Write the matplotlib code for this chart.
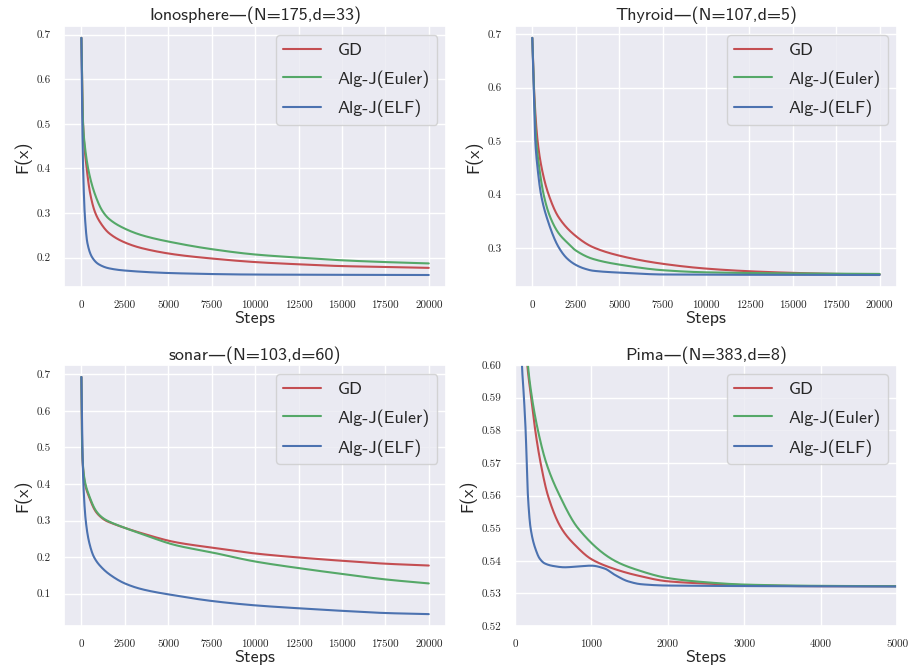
import matplotlib
matplotlib.use("Agg")
import matplotlib.pyplot as plt
from matplotlib.ticker import MultipleLocator
import seaborn as sns
import numpy as np

sns.set_theme(style="darkgrid", color_codes=True)
plt.rcParams['font.family'] = ['cmss10', 'DejaVu Sans']
plt.rcParams['axes.unicode_minus'] = False

labels = ["GD", "Alg-J(Euler)", "Alg-J(ELF)"]
colors = ["r", "g", "b"]

# Ionosphere
iono_gd_x = [0, 40, 96, 306, 500, 784, 1100, 1587, 2500, 3500, 5400, 7500, 10000, 12500, 15000, 17500, 20000]
iono_gd_y = [0.693, 0.60, 0.50, 0.40, 0.345, 0.302, 0.278, 0.255, 0.234, 0.221, 0.207, 0.198, 0.190, 0.185, 0.181, 0.179, 0.177]
iono_eu_x = [0, 40, 96, 200, 440, 800, 1205, 1587, 2500, 3500, 5400, 7500, 10000, 12500, 15000, 17500, 20000]
iono_eu_y = [0.693, 0.60, 0.50, 0.45, 0.39, 0.34, 0.305, 0.287, 0.265, 0.250, 0.233, 0.219, 0.207, 0.200, 0.194, 0.190, 0.187]
iono_elf_x = [0, 50, 100, 190, 344, 630, 1000, 1587, 2500, 5400, 10000, 20000]
iono_elf_y = [0.693, 0.50, 0.40, 0.30, 0.233, 0.20, 0.185, 0.176, 0.171, 0.165, 0.162, 0.161]

# Thyroid
thy_gd_x = [0, 95, 305, 600, 935, 1500, 2500, 3500, 5300, 7500, 10000, 12500, 15000, 17500, 20000]
thy_gd_y = [0.693, 0.60, 0.50, 0.44, 0.40, 0.358, 0.322, 0.301, 0.283, 0.270, 0.261, 0.256, 0.253, 0.251, 0.250]
thy_eu_x = [0, 90, 230, 400, 650, 1000, 1500, 2000, 2500, 3500, 5300, 7500, 10000, 15000, 20000]
thy_eu_y = [0.693, 0.60, 0.50, 0.45, 0.40, 0.36, 0.328, 0.310, 0.295, 0.279, 0.267, 0.258, 0.254, 0.252, 0.251]
thy_elf_x = [0, 80, 172, 300, 500, 900, 1500, 2000, 2500, 3000, 3500, 5300, 7500, 20000]
thy_elf_y = [0.693, 0.60, 0.50, 0.45, 0.40, 0.35, 0.302, 0.280, 0.268, 0.261, 0.257, 0.253, 0.250, 0.249]

# sonar
son_gd_x = [0, 40, 100, 210, 440, 822, 1109, 1400, 1800, 2500, 3500, 5400, 7500, 10000, 12500, 15000, 17500, 20000]
son_gd_y = [0.693, 0.50, 0.44, 0.40, 0.365, 0.325, 0.310, 0.300, 0.292, 0.280, 0.265, 0.241, 0.226, 0.210, 0.199, 0.190, 0.182, 0.177]
son_eu_x = [0, 40, 100, 210, 440, 822, 1109, 1400, 1800, 2500, 3500, 5400, 7500, 10000, 12500, 15000, 17500, 20000]
son_eu_y = [0.693, 0.51, 0.445, 0.405, 0.369, 0.328, 0.312, 0.302, 0.293, 0.280, 0.263, 0.233, 0.213, 0.188, 0.170, 0.154, 0.139, 0.128]
son_elf_x = [0, 57, 115, 250, 450, 727, 1200, 1700, 2500, 3500, 5400, 7500, 10000, 12500, 15000, 17500, 20000]
son_elf_y = [0.693, 0.50, 0.40, 0.30, 0.24, 0.20, 0.17, 0.15, 0.128, 0.112, 0.095, 0.080, 0.068, 0.060, 0.053, 0.047, 0.044]

# Pima
pima_gd_x = [0, 60, 162, 214, 266, 336, 432, 607, 800, 1000, 1300, 1600, 2000, 2600, 3200, 4000, 5000]
pima_gd_y = [0.693, 0.65, 0.60, 0.59, 0.58, 0.57, 0.56, 0.55, 0.5445, 0.5405, 0.5375, 0.5355, 0.5337, 0.5329, 0.5324, 0.5322, 0.5322]
pima_eu_x = [0, 60, 170, 223, 301, 410, 585, 825, 1306, 1600, 2000, 2500, 3000, 4000, 5000]
pima_eu_y = [0.693, 0.65, 0.60, 0.59, 0.58, 0.57, 0.56, 0.55, 0.54, 0.5372, 0.5347, 0.5334, 0.5327, 0.5323, 0.5322]
pima_elf_x = [0, 40, 92, 118, 140, 170, 205, 280, 323, 389, 500, 651, 800, 1000, 1175, 1306, 1480, 1655, 2000, 5000]
pima_elf_y = [0.693, 0.65, 0.60, 0.59, 0.58, 0.56, 0.55, 0.5429, 0.5407, 0.5392, 0.5384, 0.5380, 0.5382, 0.5385, 0.5376, 0.5357, 0.5337, 0.5328, 0.5324, 0.5321]

panels = [
    ("Ionosphere\u2014(N=175,d=33)", [(iono_gd_x, iono_gd_y), (iono_eu_x, iono_eu_y), (iono_elf_x, iono_elf_y)], None, None),
    ("Thyroid\u2014(N=107,d=5)", [(thy_gd_x, thy_gd_y), (thy_eu_x, thy_eu_y), (thy_elf_x, thy_elf_y)], None, None),
    ("sonar\u2014(N=103,d=60)", [(son_gd_x, son_gd_y), (son_eu_x, son_eu_y), (son_elf_x, son_elf_y)], None, None),
    ("Pima\u2014(N=383,d=8)", [(pima_gd_x, pima_gd_y), (pima_eu_x, pima_eu_y), (pima_elf_x, pima_elf_y)], (0, 5000), (0.52, 0.60)),
]

def smooth(x, y):
    x = np.asarray(x, float); y = np.asarray(y, float)
    xs = np.linspace(x[0], x[-1], 3000)
    h = np.diff(x); d = np.diff(y) / h
    m = np.zeros_like(y)
    for i in range(1, len(y) - 1):
        if d[i-1] * d[i] > 0:
            w1 = 2*h[i] + h[i-1]; w2 = h[i] + 2*h[i-1]
            m[i] = (w1 + w2) / (w1/d[i-1] + w2/d[i])
    m[0] = d[0]; m[-1] = d[-1]
    idx = np.clip(np.searchsorted(x, xs) - 1, 0, len(x) - 2)
    t = (xs - x[idx]) / h[idx]
    h00 = 2*t**3 - 3*t**2 + 1; h10 = t**3 - 2*t**2 + t
    h01 = -2*t**3 + 3*t**2; h11 = t**3 - t**2
    ys = h00*y[idx] + h10*h[idx]*m[idx] + h01*y[idx+1] + h11*h[idx]*m[idx+1]
    return xs, ys

fig, axes = plt.subplots(2, 2, figsize=(9.12, 6.7), dpi=100)
fig.subplots_adjust(left=0.0702, right=0.9836, top=0.9612, bottom=0.0657, wspace=0.18, hspace=0.30)

for ax, (title, series, xl, yl) in zip(axes.flat, panels):
    for (sx, sy), c, lab in zip(series, colors, labels):
        xs, ys = smooth(sx, sy)
        ax.plot(xs, ys, color=c, lw=1.5, label=lab)
    if xl:
        ax.set_xlim(*xl)
        ax.xaxis.set_major_locator(MultipleLocator(1000))
        ax.yaxis.set_major_locator(MultipleLocator(0.01))
    else:
        ax.xaxis.set_major_locator(MultipleLocator(2500))
        ax.yaxis.set_major_locator(MultipleLocator(0.1))
    if yl: ax.set_ylim(*yl)
    ax.set_title(title, fontsize=13, pad=4)
    ax.set_xlabel("Steps", fontsize=13, labelpad=1)
    ax.set_ylabel("F(x)", fontsize=13, labelpad=4)
    for t in ax.get_xticklabels() + ax.get_yticklabels():
        t.set_family('cmr10')
        t.set_fontsize(8)
    ax.legend(loc="upper right", fontsize=13, handlelength=2.1, handletextpad=0.9, labelspacing=0.68)

fig.savefig("out.png", dpi=100)
